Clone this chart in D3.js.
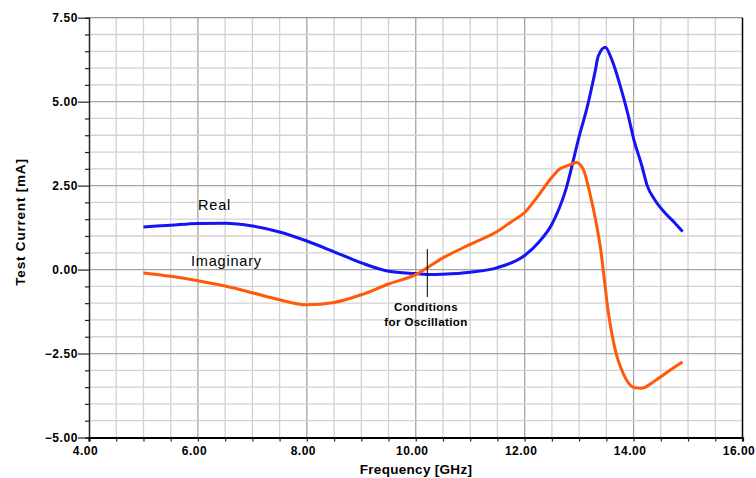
<!DOCTYPE html>
<html>
<head>
<meta charset="utf-8">
<script src="https://cdn.jsdelivr.net/npm/d3@7"></script>
<style>
  html, body { margin: 0; padding: 0; background: #fff; }
  svg { display: block; font-family: "Liberation Sans", Arial, sans-serif; }
</style>
</head>
<body>
<svg id="chart" width="756" height="478"></svg>
<script>
// Frequency sweep (GHz) and test current (mA) for each component
const realFreq = [5.0, 5.5, 6.0, 6.5, 7.0, 7.5, 8.0, 8.5, 9.0, 9.5, 10.0, 10.3, 10.5, 11.0, 11.5, 12.0, 12.25, 12.5, 12.75, 13.0, 13.15, 13.3, 13.35, 13.48, 13.6, 13.75, 13.9, 14.0, 14.15, 14.25, 14.4, 14.6, 14.75, 14.9];
const realVals = [1.27, 1.32, 1.37, 1.38, 1.30, 1.12, 0.85, 0.53, 0.20, -0.05, -0.12, -0.15, -0.14, -0.08, 0.06, 0.42, 0.80, 1.35, 2.35, 3.96, 4.85, 5.95, 6.35, 6.62, 6.25, 5.50, 4.60, 3.90, 3.10, 2.50, 2.05, 1.65, 1.40, 1.13];

const imagFreq = [5.0, 5.5, 6.0, 6.5, 7.0, 7.5, 8.0, 8.5, 9.0, 9.5, 10.0, 10.5, 11.0, 11.5, 11.75, 12.0, 12.25, 12.5, 12.65, 12.8, 12.95, 13.08, 13.2, 13.3, 13.4, 13.47, 13.53, 13.6, 13.68, 13.77, 13.87, 14.02, 14.15, 14.4, 14.65, 14.9];
const imagVals = [-0.10, -0.20, -0.33, -0.49, -0.69, -0.90, -1.05, -0.98, -0.75, -0.43, -0.15, 0.35, 0.75, 1.14, 1.42, 1.70, 2.20, 2.75, 3.00, 3.10, 3.19, 2.97, 2.25, 1.50, 0.55, -0.40, -1.20, -1.90, -2.50, -2.94, -3.29, -3.52, -3.53, -3.30, -3.02, -2.75];

const xTicks = [4, 6, 8, 10, 12, 14, 16];
const yTicks = [-5, -2.5, 0, 2.5, 5, 7.5];

const svg = d3.select("#chart");
const plotLeft = 89, plotRight = 742.5, plotTop = 17.7, plotBottom = 437.5;

const x = d3.scaleLinear().domain([4, 16]).range([plotLeft, plotRight]);
const y = d3.scaleLinear().domain([-5, 7.5]).range([plotBottom, plotTop]);

// Grid: minor lines every 0.5, major lines at the labelled ticks
const minorX = d3.range(4.5, 16, 0.5);
const minorY = d3.range(-4.5, 7.5, 0.5);
const grid = svg.append("g");
grid.selectAll(".gx").data(minorX).join("line")
  .attr("x1", d => x(d)).attr("x2", d => x(d))
  .attr("y1", plotTop).attr("y2", plotBottom)
  .attr("stroke", d => xTicks.includes(d) ? "#a4a4a4" : "#d2d2d2")
  .attr("stroke-width", 1.3);
grid.selectAll(".gy").data(minorY).join("line")
  .attr("x1", plotLeft).attr("x2", plotRight)
  .attr("y1", d => y(d)).attr("y2", d => y(d))
  .attr("stroke", d => yTicks.includes(d) ? "#a4a4a4" : "#d2d2d2")
  .attr("stroke-width", 1.3);

// Frame
svg.append("line").attr("x1", plotLeft).attr("x2", plotRight).attr("y1", plotTop).attr("y2", plotTop)
  .attr("stroke", "#909090").attr("stroke-width", 1.3);
svg.append("line").attr("x1", plotRight).attr("x2", plotRight).attr("y1", plotTop).attr("y2", plotBottom)
  .attr("stroke", "#000").attr("stroke-width", 1.5);

// Y axis
const yAxis = svg.append("g").attr("transform", `translate(${plotLeft},0)`)
  .call(d3.axisLeft(y).tickValues(d3.range(-5, 7.51, 0.5)).tickSize(4)
    .tickFormat(d => yTicks.includes(d) ? d3.format(".2f")(d) : ""));
yAxis.select(".domain").attr("stroke", "#222").attr("stroke-width", 1.5);
yAxis.selectAll(".tick line").attr("stroke", "#222").attr("stroke-width", 1.2)
  .attr("x2", d => yTicks.includes(d) ? -11 : -4);
yAxis.selectAll(".tick text").attr("x", -11).attr("fill", "#000")
  .attr("font-size", 12).attr("font-weight", "bold").attr("letter-spacing", 0.6)
  .attr("font-family", "Liberation Sans, Arial, sans-serif");

// X axis (labels sit slightly left of their ticks)
const xAxis = svg.append("g").attr("transform", `translate(0,${plotBottom})`)
  .call(d3.axisBottom(x).tickValues(d3.range(4, 16.01, 0.5)).tickSize(4)
    .tickFormat(d => xTicks.includes(d) ? d3.format(".2f")(d) : ""));
xAxis.select(".domain").attr("stroke", "#000").attr("stroke-width", 2.2);
xAxis.selectAll(".tick line").attr("stroke", "#222").attr("stroke-width", 1.2);
xAxis.selectAll(".tick text").attr("y", 9).attr("x", -4).attr("fill", "#000")
  .attr("font-size", 12).attr("font-weight", "bold").attr("letter-spacing", 0.5)
  .attr("font-family", "Liberation Sans, Arial, sans-serif");

// Axis titles
svg.append("text").attr("x", 416).attr("y", 474).attr("text-anchor", "middle")
  .attr("font-size", 13.5).attr("font-weight", "bold").attr("letter-spacing", 0.3)
  .text("Frequency [GHz]");
svg.append("text").attr("transform", "translate(25,222) rotate(-90)")
  .attr("text-anchor", "middle").attr("font-size", 13.5).attr("font-weight", "bold")
  .attr("letter-spacing", 0.8).text("Test Current [mA]");

// Curves
const line = d3.line().x(d => x(d[0])).y(d => y(d[1])).curve(d3.curveMonotoneX);
const realData = realFreq.map((f, i) => [f, realVals[i]]);
const imagData = imagFreq.map((f, i) => [f, imagVals[i]]);

svg.append("path").datum(realData).attr("d", line)
  .attr("fill", "none").attr("stroke", "#1414f5").attr("stroke-width", 3)
  .attr("stroke-linejoin", "round");
svg.append("path").datum(imagData).attr("d", line)
  .attr("fill", "none").attr("stroke", "#ff5a0a").attr("stroke-width", 3)
  .attr("stroke-linejoin", "round");

// Series labels
svg.append("text").attr("x", 198).attr("y", 210).attr("font-size", 14.5)
  .attr("letter-spacing", 0.8).text("Real");
svg.append("text").attr("x", 191).attr("y", 266).attr("font-size", 14.5)
  .attr("letter-spacing", 0.8).text("Imaginary");

// Oscillation marker
svg.append("line").attr("x1", 427.3).attr("x2", 427.3).attr("y1", 249).attr("y2", 297)
  .attr("stroke", "#000").attr("stroke-width", 1);
svg.append("text").attr("x", 426).attr("y", 311).attr("text-anchor", "middle")
  .attr("font-size", 11.5).attr("font-weight", "bold").attr("letter-spacing", 0.4)
  .text("Conditions");
svg.append("text").attr("x", 426).attr("y", 326).attr("text-anchor", "middle")
  .attr("font-size", 11.5).attr("font-weight", "bold").attr("letter-spacing", 0.4)
  .text("for Oscillation");
</script>
</body>
</html>
